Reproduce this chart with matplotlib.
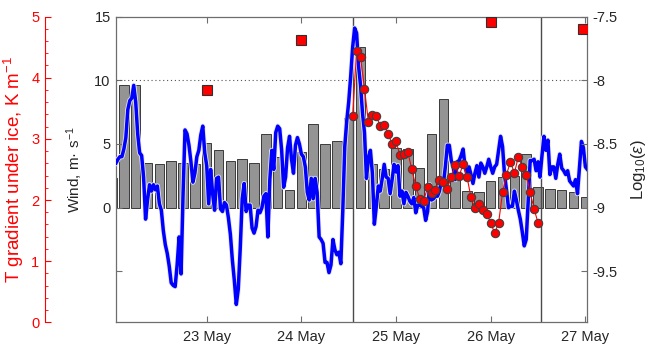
import matplotlib
matplotlib.use("Agg")
import matplotlib.pyplot as plt
import matplotlib.patheffects as pe
import numpy as np

plt.rcParams['font.family'] = ['Liberation Sans', 'DejaVu Sans']
plt.rcParams['mathtext.fontset'] = 'custom'
plt.rcParams['mathtext.rm'] = 'Liberation Sans'
plt.rcParams['mathtext.it'] = 'Liberation Sans:italic'
plt.rcParams['axes.unicode_minus'] = False

# 3-hourly bars (day of May), wind axis units
bar_days = 22.0 + 0.125 * np.arange(41)
bar_vals = [2.3, 9.6, 9.6, 3.5, 3.4, 3.7, 3.5, 3.4, 5.1, 4.5,
            3.7, 3.8, 3.5, 5.8, 4.0, 1.4, 4.4, 6.6, 5.0, 5.2,
            7.0, 12.6, 3.4, 3.0, 4.7, 4.6, 3.1, 5.8, 8.5, 2.2,
            1.3, 1.2, 2.1, 2.4, 2.5, 4.2, 1.6, 1.5, 1.4, 1.2, 0.8]

# half-hourly wind speed, m/s
wind = [3.5, 3.8, 4.0, 4.0, 4.6, 5.5, 7.7, 8.4, 8.6, 9.6,
        8.3, 5.8, 4.3, 4.1, 2.4, -0.9, 0.6, 1.8, 1.3, 1.8,
        1.4, 1.7, 0.3, -0.2, -1.8, -2.9, -3.6, -4.6, -5.9, -6.1,
        -6.2, -4.5, -2.3, -5.2, 1.0, 6.1, 5.8, 4.9, 3.6, 2.0,
        2.7, 4.0, 4.5, 5.7, 6.4, 4.3, 3.3, 0.3, 3.0, 1.1,
        -0.2, 2.3, 2.4, -0.1, -0.3, 0.4, 0.2, -0.8, -2.1, -4.1,
        -5.7, -7.6, -6.4, -3.2, 0.7, 1.9, -0.3, 0.2, 0.2, -1.6,
        -2.0, -1.5, -0.2, -0.4, 0.0, 0.9, 1.1, -2.3, 2.2, 4.5,
        3.0, 5.9, 6.4, 6.2, 4.5, 1.6, 2.4, 4.7, 5.6, 3.8,
        2.7, 4.9, 5.5, 5.0, 4.2, 4.0, 3.2, 1.2, 0.6, 2.3,
        0.7, 2.3, 1.2, -2.3, -2.5, -2.8, -4.3, -4.3, -5.1, -4.5,
        -2.5, -3.3, -3.7, -3.5, -4.4, -0.2, 4.8, 6.8, 8.3, 10.3,
        12.6, 14.1, 13.7, 11.1, 9.6, 7.4, 5.9, 2.3, 3.9, 4.5,
        2.7, -1.3, 0.1, 1.7, 1.3, 2.3, 3.4, 2.4, 2.3, 1.1,
        2.2, 3.4, 2.8, 3.3, 0.9, 1.3, 0.3, 1.2, 0.9, 0.5,
        0.3, 0.8, -0.4, 0.2, 0.2, 0.1, 0.0, -1.0, -0.3, 1.8,
        0.6, 0.7, 0.9, 0.9, 1.3, 2.1, 1.9, 3.2, 4.9, 4.9,
        3.7, 3.2, 2.2, 3.6, 3.7, 4.1, 4.6, 3.2, 2.6, 3.2,
        2.6, 1.9, 2.7, 3.3, 2.4, 3.5, 3.2, 2.7, 3.2, 3.8,
        3.2, 2.7, 3.2, 3.4, 4.5, 5.6, 4.8, 2.6, 1.4, 0.0,
        0.1, 0.1, 1.3, 0.6, -0.2, -0.9, -1.9, -3.0, -2.5, 0.5,
        3.7, 3.7, 3.8, 2.9, 3.6, 2.4, 4.1, 5.6, 4.5, 5.3,
        2.6, 3.2, 3.2, 2.3, 3.4, 4.2, 3.1, 2.9, 2.6, 2.9,
        2.1, 1.9, 1.7, 2.2, 1.1, 3.1, 5.2, 4.7, 3.2, 3.0]
wind_days = 22.0 + (np.arange(len(wind)) + 2) / 48.0

# hourly dissipation rate, log10
eps_days = 24.5 + (np.arange(48) + 1) / 24.0
log_eps = [-8.28, -7.77, -7.82, -8.065, -8.33, -8.275, -8.28, -8.36, -8.35, -8.42,
           -8.50, -8.48, -8.59, -8.58, -8.565, -8.70, -8.83, -8.93, -8.945, -8.84,
           -8.885, -8.86, -8.78, -8.80, -8.85, -8.76, -8.665, -8.75, -8.66, -8.76,
           -8.92, -9.00, -8.97, -9.02, -9.05, -9.12, -9.20, -9.12, -8.88, -8.74,
           -8.64, -8.73, -8.60, -8.68, -8.74, -8.88, -9.01, -9.12]

# temperature gradient under the ice, K/m
tg_days = [23.0, 24.0, 26.0, 26.98]
tg_vals = [3.80, 4.61, 4.91, 4.80]

day_ticks = [23, 24, 25, 26, 27]
day_labels = ['23 May', '24 May', '25 May', '26 May', '27 May']
wind_ticks = [-5, 0, 5, 10, 15]
wind_labels = ['', '0', '5', '10', '15']
eps_ticks = [-9.5, -9, -8.5, -8, -7.5]
eps_labels = ['-9.5', '-9', '-8.5', '-8', '-7.5']

txt = '#262626'
frame = '#6e6e6e'
fs_tick = 10.5

fig = plt.figure(figsize=(6.49, 3.47), dpi=100)
ax = fig.add_axes([0.1792, 0.0712, 0.7257, 0.881])

ax.bar(bar_days, bar_vals, width=0.1, color='#949494', edgecolor='#3a3a3a',
       linewidth=0.7, zorder=1)
ax.plot(wind_days, wind, color='#0000ff', lw=2.5, zorder=3, solid_joinstyle='round',
        path_effects=[pe.Stroke(linewidth=3.7, foreground='#e6e6e6'), pe.Normal()])
ax.axhline(10, color='#555555', ls=(0, (1, 2.5)), lw=0.8, zorder=2)
for xv in (24.54, 26.53):
    ax.axvline(xv, color='#4a4a4a', lw=1.0, zorder=2)

ax.set_xlim(22.045, 27.02)
ax.set_ylim(-9, 15)
ax.set_xticks(day_ticks)
ax.set_xticklabels(day_labels)
ax.set_yticks(wind_ticks)
ax.set_yticklabels(wind_labels)
ax.tick_params(axis='x', direction='in', top=True, length=4, pad=5.5,
               labelsize=fs_tick, colors=frame, labelcolor=txt)
ax.tick_params(axis='y', direction='in', length=4, pad=4, labelsize=fs_tick,
               colors=frame, labelcolor=txt)
for s in ax.spines.values():
    s.set_color(frame)
    s.set_linewidth(0.9)
ax.set_ylabel('Wind, m· s$^{-1}$', fontsize=11, color=txt, labelpad=7)

# epsilon on the right
ax2 = ax.twinx()
ax2.set_ylim(-9.9, -7.5)
ax2.plot(eps_days, log_eps, color='red', lw=0.8, marker='o', ms=6,
         mfc='red', mec='#404040', mew=0.8, zorder=4)
ax2.set_yticks(eps_ticks)
ax2.set_yticklabels(eps_labels)
ax2.tick_params(axis='y', direction='in', length=4, pad=4, labelsize=fs_tick,
                colors=frame, labelcolor=txt)
for s in ax2.spines.values():
    s.set_visible(False)
ax2.set_ylabel(r'Log$_{10}$($\epsilon$)', fontsize=12, color=txt, labelpad=8)

# T gradient axis, offset to the left
ax3 = ax.twinx()
ax3.set_ylim(0, 5)
ax3.plot(tg_days, tg_vals, ls='none', marker='s', ms=6.5, mfc='red',
         mec='#303030', mew=0.8, zorder=5)
ax3.yaxis.tick_left()
ax3.yaxis.set_label_position('left')
for name in ('right', 'top', 'bottom'):
    ax3.spines[name].set_visible(False)
ax3.spines['left'].set_visible(True)
ax3.spines['left'].set_position(('outward', 51.3))
ax3.spines['left'].set_color('red')
ax3.set_yticks([0, 1, 2, 3, 4, 5])
ax3.set_yticks(np.arange(0, 5.01, 0.2), minor=True)
ax3.tick_params(axis='y', which='major', direction='in', length=4, pad=4,
                labelsize=fs_tick, colors='red')
ax3.tick_params(axis='y', which='minor', direction='in', length=2.2, colors='red')
ax3.set_ylabel('T gradient under ice, K m$^{-1}$', fontsize=13.5, color='red',
               labelpad=4)

fig.savefig('out.png', dpi=100)
